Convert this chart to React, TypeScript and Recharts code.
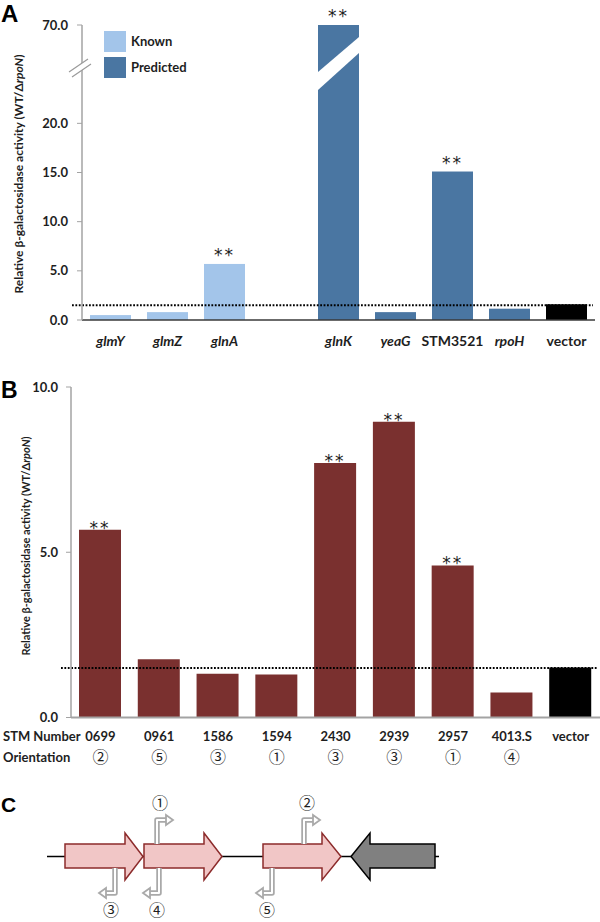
import { Bar, BarChart, Cell, LabelList, Legend, ReferenceLine, XAxis, YAxis } from "recharts";

// panel A: known / predicted sigma-54 promoters
const genesA = ["glmY", "glmZ", "glnA", "", "glnK", "yeaG", "STM3521", "rpoH", "vector"];
const ratioA = [0.5, 0.8, 5.7, null, 70, 0.8, 15.1, 1.15, 1.6];
const groupA = ["Known", "Known", "Known", "", "Predicted", "Predicted", "Predicted", "Predicted", "Control"];
const italicA = [true, true, true, false, true, true, false, true, false];
const sigA = ["", "", "**", "", "**", "", "**", "", ""];
const ticksA = [0, 5, 10, 15, 20, 70];

// panel B: STM fusions
const stmB = ["0699", "0961", "1586", "1594", "2430", "2939", "2957", "4013.S", "vector"];
const orientB = ["②", "⑤", "③", "①", "③", "③", "①", "④", ""];
const ratioB = [5.68, 1.76, 1.32, 1.3, 7.7, 8.95, 4.6, 0.76, 1.51];
const sigB = ["**", "", "", "", "**", "**", "**", "", ""];
const ticksB = [0, 5, 10];

const legendLabels = ["Known", "Predicted"];
const threshold = 1.5;

const colors: Record<string, string> = {
  Known: "#a3c5ea",
  Predicted: "#4a76a2",
  Control: "#000000",
  STM: "#7a302f",
};

// broken y axis for A: everything above 25 is squeezed 9x
const BREAK = 25;
const SQUEEZE = 9;
const toAxis = (v: number) => (v <= BREAK ? v : BREAK + (v - BREAK) / SQUEEZE);
const fromAxis = (t: number) => (t <= BREAK ? t : BREAK + (t - BREAK) * SQUEEZE);

const dataA = genesA.map((g, i) => ({
  gene: g,
  ratio: ratioA[i],
  group: groupA[i],
  italic: italicA[i],
  sig: sigA[i],
}));

const dataB = stmB.map((s, i) => ({
  stm: s,
  orient: orientB[i],
  ratio: ratioB[i],
  group: s === "vector" ? "Control" : "STM",
  sig: sigB[i],
}));

const FONT = "Lato, 'Open Sans', sans-serif";
const CIRCLED = "'Noto Sans CJK JP', 'DejaVu Sans', sans-serif";
const INK = "#1e1e1e";
const AXIS = "#a3a3a3";

const YTitle = ({ cx, cy, size }: any) => (
  <text
    transform={`translate(${cx},${cy}) rotate(-90)`}
    textAnchor="middle"
    dominantBaseline="central"
    fontSize={size}
    fontWeight={700}
    fill={INK}
    fontFamily={FONT}
  >
    Relative β-galactosidase activity (WT/Δ<tspan fontStyle="italic">rpoN</tspan>)
  </text>
);

const GeneTick = ({ x, y, payload, index }: any) => {
  const row = dataA[index] ?? dataA.find((d) => d.gene === payload.value);
  return (
    <text
      x={x}
      y={y + 26}
      textAnchor="middle"
      fontSize={14}
      fontWeight={700}
      fontStyle={row?.italic ? "italic" : "normal"}
      fill={INK}
    >
      {payload.value}
    </text>
  );
};

const StmTick = ({ x, y, payload, index }: any) => {
  const row = dataB[index] ?? dataB.find((d) => d.stm === payload.value);
  return (
    <g>
      <text x={x} y={y + 23.5} textAnchor="middle" fontSize={13} fontWeight={700} fill={INK}>
        {payload.value}
      </text>
      <text x={x} y={y + 45} textAnchor="middle" fontSize={16} fill={INK} fontFamily={CIRCLED}>
        {row?.orient}
      </text>
    </g>
  );
};

const BrokenBar = (p: any) => {
  const { x, y, width, height, fill, payload } = p;
  if (height == null || height <= 0) return null;
  return (
    <g>
      <rect x={x} y={y} width={width} height={height} fill={fill} />
      {payload?.ratio > BREAK && (
        <polygon
          points={`${x},${y + 47} ${x + width},${y + 12} ${x + width},${y + 28} ${x},${y + 65}`}
          fill="#ffffff"
        />
      )}
    </g>
  );
};

const Stars = (lift: number) => (p: any) => {
  const { x, y, width, value } = p;
  if (!value) return null;
  return (
    <text
      x={x + width / 2}
      y={y - lift}
      textAnchor="middle"
      fontSize={17}
      letterSpacing={2}
      fill={INK}
      fontFamily="'DejaVu Sans', sans-serif"
    >
      {value}
    </text>
  );
};

const Dotted = (p: any) => (
  <line
    x1={p.x1 - 10}
    y1={p.y1}
    x2={p.x2 - 2}
    y2={p.y2}
    stroke="#000"
    strokeWidth={2}
    strokeDasharray="1.8 1.6"
  />
);

const LegendBox = () => (
  <div style={{ fontFamily: FONT }}>
    {legendLabels.map((l) => (
      <div key={l} style={{ display: "flex", alignItems: "center", height: 26 }}>
        <div style={{ width: 22, height: 21, background: colors[l], marginRight: 5 }} />
        <span style={{ fontSize: 13, fontWeight: 700, color: INK }}>{l}</span>
      </div>
    ))}
  </div>
);

const arrowR = (x0: number, xh: number, xt: number) =>
  `${x0},844 ${xh},844 ${xh},833 ${xt},856.5 ${xh},880 ${xh},868 ${x0},868`;

const Promoter = ({ x, up }: { x: number; up: boolean }) => {
  const yb = up ? 844 : 868;
  const yc = up ? 820 : 893;
  const xe = up ? x + 9 : x - 9;
  const xt = up ? x + 16 : x - 16;
  const d = `M${x},${yb} V${yc} H${xe}`;
  return (
    <g>
      <path d={d} fill="none" stroke="#a9a9a9" strokeWidth={5.5} strokeLinejoin="round" />
      <path d={d} fill="none" stroke="#ffffff" strokeWidth={2} strokeLinejoin="round" />
      <polygon
        points={`${xe},${yc - 5} ${xt},${yc} ${xe},${yc + 5}`}
        fill="#fff"
        stroke="#a9a9a9"
        strokeWidth={1.8}
      />
    </g>
  );
};

export default function App() {
  return (
    <div
      style={{
        position: "absolute",
        left: 0,
        top: 0,
        width: 600,
        height: 922,
        background: "#fff",
        fontFamily: FONT,
      }}
    >
      <div style={{ position: "absolute", left: 0, top: 0 }}>
        <BarChart width={600} height={350} data={dataA} margin={{ top: 25, right: 5, bottom: 0, left: 0 }}>
          <XAxis
            dataKey="gene"
            interval={0}
            height={30}
            tickLine={false}
            tickSize={0}
            tickMargin={0}
            axisLine={{ stroke: "#3a3a3a", strokeWidth: 1.5 }}
            tick={<GeneTick />}
          />
          <YAxis
            width={82}
            domain={[0, toAxis(70)]}
            ticks={ticksA.map(toAxis)}
            tickFormatter={(t: number) => fromAxis(t).toFixed(1)}
            tick={{ fontSize: 13, fontWeight: 700, fill: INK }}
            tickSize={5}
            tickMargin={9}
            tickLine={{ stroke: AXIS }}
            axisLine={{ stroke: AXIS, strokeWidth: 1.5 }}
            label={<YTitle cx={18} cy={174} size={12} />}
          />
          <Legend
            layout="vertical"
            align="center"
            verticalAlign="middle"
            content={<LegendBox />}
            wrapperStyle={{ position: "absolute", left: 104, top: 28, width: 120 }}
          />
          <Bar
            dataKey={(d: any) => (d.ratio == null ? null : toAxis(d.ratio))}
            barSize={41}
            isAnimationActive={false}
            shape={<BrokenBar />}
          >
            {dataA.map((d, i) => (
              <Cell key={i} fill={colors[d.group] ?? "#fff"} />
            ))}
            <LabelList dataKey="sig" content={Stars(3)} />
          </Bar>
          <ReferenceLine y={threshold} shape={Dotted} />
        </BarChart>
      </div>

      <div style={{ position: "absolute", left: 0, top: 360 }}>
        <BarChart width={600} height={410} data={dataB} margin={{ top: 27, right: 0, bottom: 0, left: 0 }}>
          <XAxis
            dataKey="stm"
            interval={0}
            height={52.5}
            tickLine={false}
            tickSize={0}
            tickMargin={0}
            axisLine={{ stroke: AXIS, strokeWidth: 2 }}
            tick={<StmTick />}
          />
          <YAxis
            width={71}
            domain={[0, 10]}
            ticks={ticksB}
            tickFormatter={(t: number) => t.toFixed(1)}
            tick={{ fontSize: 13, fontWeight: 700, fill: INK }}
            tickSize={5}
            tickMargin={8}
            tickLine={{ stroke: AXIS }}
            axisLine={{ stroke: AXIS, strokeWidth: 1.5 }}
            label={<YTitle cx={25} cy={186} size={11} />}
          />
          <Bar dataKey="ratio" barSize={42} isAnimationActive={false}>
            {dataB.map((d, i) => (
              <Cell key={i} fill={colors[d.group]} />
            ))}
            <LabelList dataKey="sig" content={Stars(-4)} />
          </Bar>
          <ReferenceLine y={threshold} shape={Dotted} />
        </BarChart>
      </div>

      <svg
        width={600}
        height={922}
        style={{ position: "absolute", left: 0, top: 0, pointerEvents: "none" }}
      >
        {/* panel letters */}
        <g fontFamily="'Liberation Sans', Arial, sans-serif" fontWeight={700} fill="#000">
          <text x={1} y={22} fontSize={24}>A</text>
          <text x={1} y={398} fontSize={23}>B</text>
          <text x={1} y={812} fontSize={21}>C</text>
        </g>

        {/* y-axis break in A */}
        <polygon points="69,72 88,59 91,64 72,77" fill="#fff" />
        <line x1={69} y1={72} x2={88} y2={59} stroke="#9a9a9a" strokeWidth={1.2} />
        <line x1={72} y1={77} x2={91} y2={64} stroke="#9a9a9a" strokeWidth={1.2} />

        {/* row labels in B */}
        <text x={3} y={741} fontSize={13} fontWeight={700} fill={INK} fontFamily={FONT}>STM Number</text>
        <text x={3} y={762} fontSize={13} fontWeight={700} fill={INK} fontFamily={FONT}>Orientation</text>

        {/* panel C operon sketch */}
        <line x1={47} y1={856.5} x2={439} y2={856.5} stroke="#000" strokeWidth={1.6} />
        <polygon points={arrowR(65, 125, 143)} fill="#f1c6c6" stroke="#8c2b2b" strokeWidth={1.5} />
        <polygon points={arrowR(144, 204, 222)} fill="#f1c6c6" stroke="#8c2b2b" strokeWidth={1.5} />
        <polygon points={arrowR(263, 322, 341)} fill="#f1c6c6" stroke="#8c2b2b" strokeWidth={1.5} />
        <polygon
          points="351,856.5 370,833 370,844 435,844 435,868 370,868 370,880"
          fill="#808080"
          stroke="#000"
          strokeWidth={1.5}
        />
        <Promoter x={157} up />
        <Promoter x={304} up />
        <Promoter x={115} up={false} />
        <Promoter x={159} up={false} />
        <Promoter x={272} up={false} />
        <g fontSize={16} fill={INK} textAnchor="middle" fontFamily={CIRCLED}>
          <text x={160} y={809}>①</text>
          <text x={307} y={809}>②</text>
          <text x={111} y={916}>③</text>
          <text x={157} y={916}>④</text>
          <text x={267} y={916}>⑤</text>
        </g>
      </svg>
    </div>
  );
}
